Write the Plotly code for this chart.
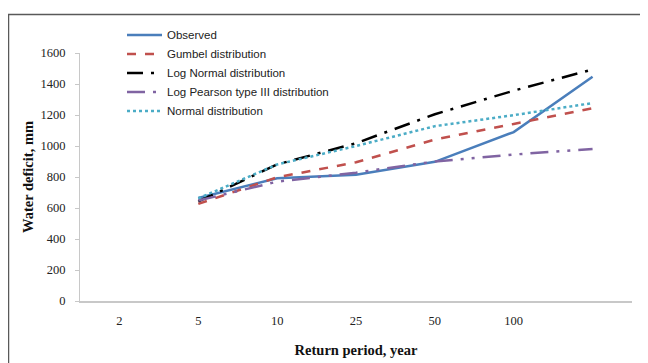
import plotly.graph_objects as go

return_periods = ["2", "5", "10", "25", "50", "100", "200"]
tick_labels = ["2", "5", "10", "25", "50", "100", ""]
series_x = ["5", "10", "25", "50", "100", "200"]

observed = [665, 792, 815, 898, 1090, 1447]
gumbel = [627, 798, 895, 1042, 1142, 1244]
log_normal = [642, 881, 1018, 1205, 1357, 1494]
log_pearson3 = [648, 770, 828, 900, 945, 981]
normal = [662, 881, 1000, 1128, 1199, 1277]

names = ["Observed", "Gumbel distribution", "Log Normal distribution",
         "Log Pearson type III distribution", "Normal distribution"]
values = [observed, gumbel, log_normal, log_pearson3, normal]
colors = ["#4A7EBB", "#C0504D", "#000000", "#8064A2", "#4BACC6"]
dashes = ["solid", "dash", "16px,8px,3px,8px", "18px,8px,3px,8px,3px,8px", "dot"]

fig = go.Figure()
for n, v, c, d in zip(names, values, colors, dashes):
    fig.add_trace(go.Scatter(x=series_x, y=v, name=n, mode="lines",
                             line=dict(color=c, width=2.5, dash=d)))

W, H = 640, 355
L, R, T, B = 72, 16, 42, 62
PW, PH = W - L - R, H - T - B

serif = "Liberation Serif, Times New Roman, serif"

fig.update_layout(
    width=W, height=H,
    margin=dict(l=L, r=R, t=T, b=B),
    paper_bgcolor="white", plot_bgcolor="white",
    showlegend=True,
    legend=dict(x=42 / PW, y=1 + 33 / PH, xanchor="left", yanchor="top",
                itemwidth=35,
                font=dict(family="Liberation Sans Narrow, Liberation Sans", size=11.5, color="#222"),
                bgcolor="rgba(0,0,0,0)", tracegroupgap=0),
    xaxis=dict(type="category", categoryorder="array", categoryarray=return_periods,
               tickvals=return_periods, ticktext=tick_labels, automargin=False,
               range=[-0.5, 6.5], showgrid=False, showline=True, linecolor="#C8C8C8",
               linewidth=1.5, ticks="outside", ticklen=7, tickcolor="rgba(0,0,0,0)",
               tickfont=dict(family=serif, size=12.5, color="#222"),
               title=dict(text="<b>Return period, year</b>", standoff=18,
                          font=dict(family=serif, size=14.5, color="#111"))),
    yaxis=dict(range=[0, 1600], dtick=200, showgrid=False, showline=True, linecolor="#C8C8C8",
               linewidth=1, ticks="outside", ticklen=4, tickcolor="#C8C8C8", zeroline=False,
               ticklabelstandoff=7, automargin=False,
               tickfont=dict(family=serif, size=12.5, color="#222"),
               title=dict(text="<b>Water deficit, mm</b>", standoff=3,
                          font=dict(family=serif, size=14.5, color="#111"))),
)

fig.add_shape(type="rect", xref="paper", yref="paper",
              x0=(0.5 - L) / PW, x1=(W + 20 - L) / PW,
              y0=(PH + T - (H + 20)) / PH, y1=(PH + T - 3) / PH,
              line=dict(color="#595959", width=1.5), layer="below")

fig.write_html("out.html")
